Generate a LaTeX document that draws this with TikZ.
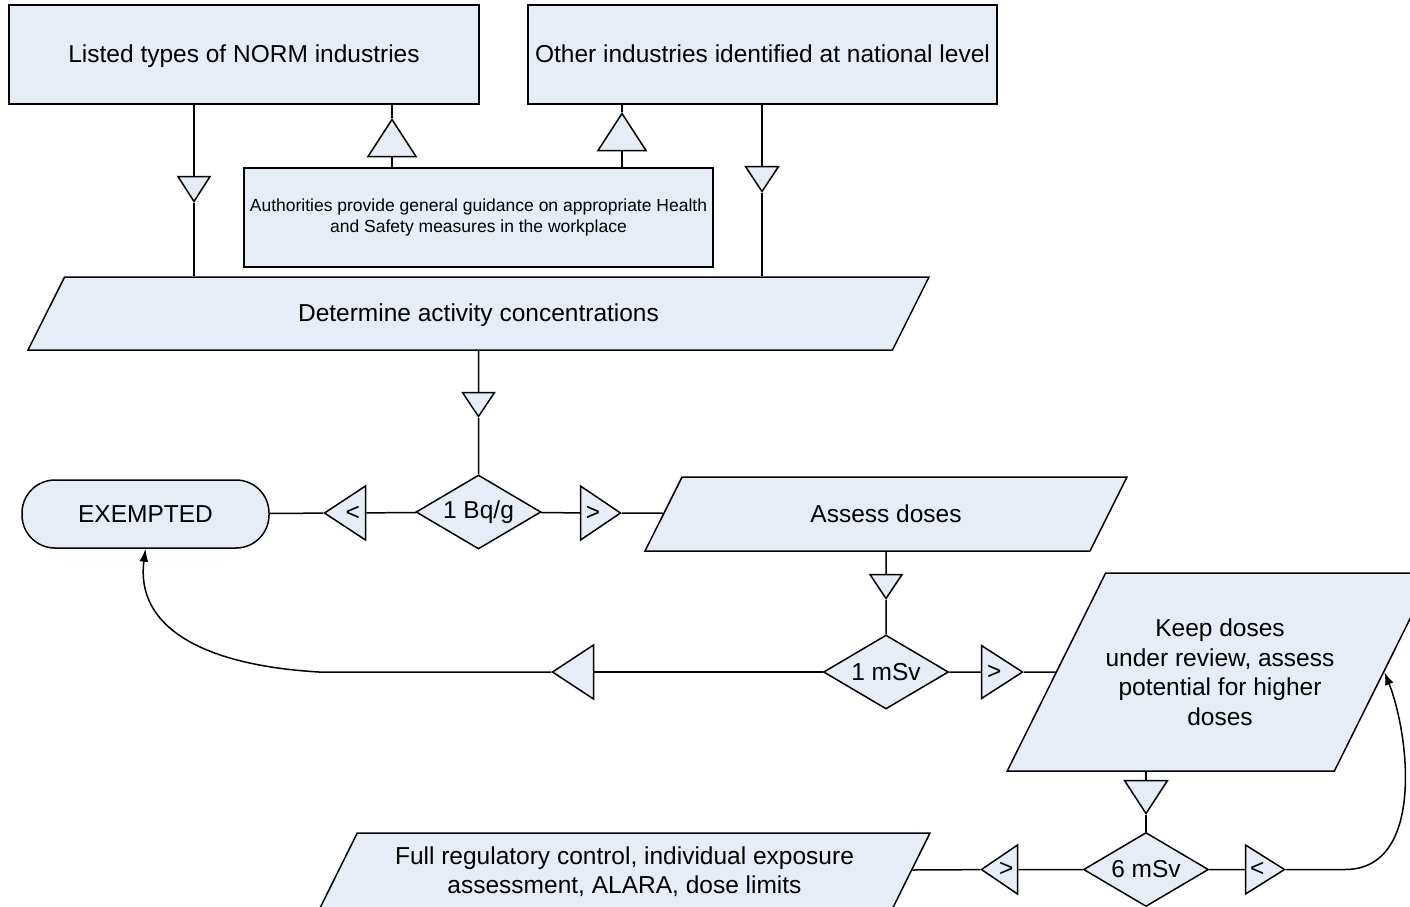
\documentclass[tikz,border=0pt]{standalone}
\usepackage{fontspec}
\setmainfont{Liberation Sans}
\usetikzlibrary{shapes.geometric,arrows.meta}
\definecolor{flowfill}{RGB}{231,237,247}

\begin{document}
\begin{tikzpicture}[x=1pt, y=-1pt, >={Latex[length=13pt,width=9pt]}, line width=1.5pt]
    % styles
    \tikzstyle{txt} = [font=\fontsize{24.5}{29.5}\selectfont]
    \tikzstyle{oneline} = [text height=20pt, text depth=4pt]
    \tikzstyle{box} = [txt, rectangle, draw, fill=flowfill, align=center]
    \tikzstyle{io} = [txt, trapezium, trapezium left angle=63.4, trapezium right angle=116.6, trapezium stretches body, draw, fill=flowfill, align=center, inner xsep=0pt]
    \tikzstyle{test} = [txt, diamond, draw, fill=flowfill, aspect=1.68, inner sep=0pt, minimum width=125pt, minimum height=74pt]
    \tikzstyle{merge} = [txt, isosceles triangle, isosceles triangle apex angle=60, isosceles triangle stretches, draw, fill=flowfill, inner sep=0pt]

    \clip (0,0) rectangle (1410,906);

    % ================= top boxes =================
    \node[box, oneline, minimum width=470pt, minimum height=99pt] (listed) at (244,54.5) {Listed types of NORM industries};
    \node[box, oneline, minimum width=469pt, minimum height=99pt] (other) at (762.5,54.5) {Other industries identified at national level};
    \node[box, font=\fontsize{17.5}{21}\selectfont, minimum width=469pt, minimum height=99pt] (guide) at (478.5,217.5)
        {Authorities provide general guidance on appropriate Health\\and Safety measures in the workplace};

    % ================= flow nodes =================
    \node[io, oneline, inner ysep=24.5pt, minimum width=901pt] (determine) at (478.5,313.5) {Determine activity concentrations};
    \node[test] (bq) at (478.5,512) {1 Bq/g};
    \node[box, oneline, rounded corners=33pt, minimum width=247pt, minimum height=68pt] (exempt) at (145.5,514) {EXEMPTED};
    \node[io, oneline, inner ysep=25pt, minimum width=482pt] (assess) at (886,514) {Assess doses};
    \node[test] (msv) at (886,672) {1 mSv};
    \node[io, inner ysep=45pt, minimum width=422pt, minimum height=198pt] (keep) at (1220,672)
        {Keep doses\\under review, assess\\potential for higher\\doses};
    \node[test] (six) at (1146,869.5) {6 mSv};
    \node[io, inner ysep=13pt, minimum width=611pt, minimum height=77pt] (full) at (624.5,871.5)
        {Full regulatory control, individual exposure\\assessment, ALARA, dose limits};

    % ================= merge triangles =================
    % pointing down
    \foreach \n/\x/\y/\w/\h in {m1/194/203/32/25, m2/762/193/33/25, m3/478.5/418/32/24, m4/886/600/32/24, m5/1146/815/43/33} {
        \node[merge, shape border rotate=-90, minimum width=\w pt, minimum height=\h pt, anchor=apex] (\n) at (\x,\y) {};
    }
    % pointing up
    \foreach \n/\x/\y in {g1/392/118, g2/622/112} {
        \node[merge, shape border rotate=90, minimum width=48pt, minimum height=37pt, anchor=apex] (\n) at (\x,\y) {};
    }
    % sideways
    \node[merge, shape border rotate=180, minimum width=54pt, minimum height=41pt, anchor=apex] (bqL) at (323,513) {<};
    \node[merge, minimum width=54pt, minimum height=40pt, anchor=apex] (bqR) at (622,513) {>};
    \node[merge, shape border rotate=180, minimum width=54pt, minimum height=41pt, anchor=apex] (mL) at (551,672) {};
    \node[merge, minimum width=53pt, minimum height=41pt, anchor=apex] (mR) at (1024,672) {>};
    \node[merge, shape border rotate=180, minimum width=49pt, minimum height=36pt, anchor=apex] (sL) at (980,869.5) {>};
    \node[merge, minimum width=49pt, minimum height=39pt, anchor=apex] (sR) at (1286,869.5) {<};

    \coordinate (bendL) at (319,672);
    \coordinate (bendR) at (1345,869.5);

    % ================= connectors =================
    \draw (listed.south -| m1) -- (m1) -- (m1 |- determine.north);
    \draw (other.south -| m2) -- (m2) -- (m2 |- determine.north);
    \draw (guide.north -| g1) -- (g1) -- (g1 |- listed.south);
    \draw (guide.north -| g2) -- (g2) -- (g2 |- other.south);
    \draw (determine.south) -- (m3) -- (bq);

    \draw (bq) -- (bqL) -- (exempt);
    \draw (bq) -- (bqR) -- (assess);
    \draw (assess.south) -- (m4) -- (msv);

    \draw (msv) -- (mL);
    \draw[->] (mL) -- (bendL) .. controls +(-119,-7) and +(-10,77) .. (exempt.south);
    \draw (msv) -- (mR) -- (keep);
    \draw (keep.south -| m5) -- (m5) -- (six);

    \draw (six) -- (sL) -- (full);
    \draw (six) -- (sR);
    \draw[->] (sR) -- (bendR) .. controls +(80,0) and +(25,63) .. (keep.right side);

\end{tikzpicture}
\end{document}
